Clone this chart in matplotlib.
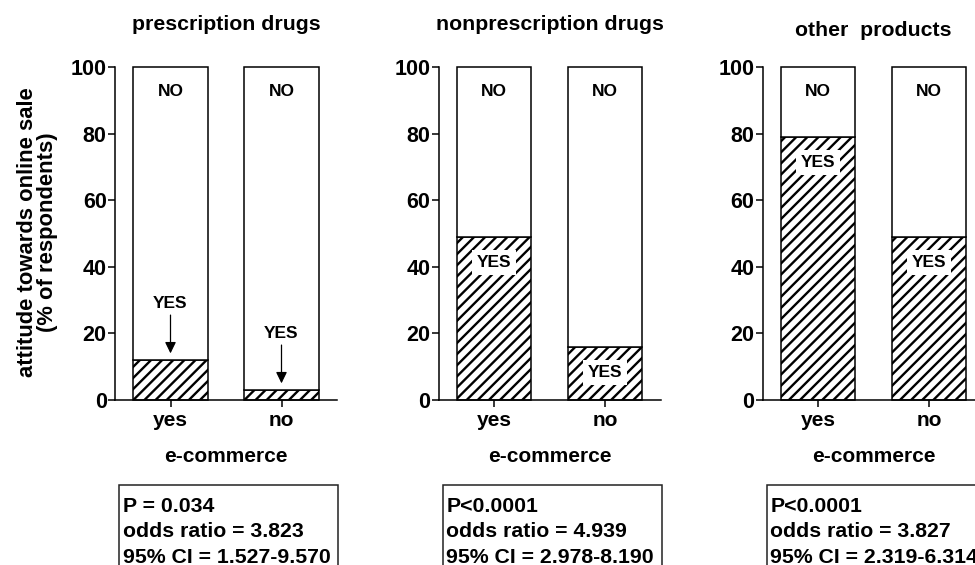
import matplotlib
matplotlib.use("Agg")
import matplotlib.pyplot as plt
from matplotlib.patches import Rectangle

plt.rcParams['font.family'] = ['Liberation Sans', 'DejaVu Sans']
plt.rcParams['font.weight'] = 'bold'
plt.rcParams['hatch.linewidth'] = 1.7

# ---- data ----
panel_titles = ["prescription drugs", "nonprescription drugs", "other  products"]
groups = ["yes", "no"]
yes_pct = [[12, 3], [49, 16], [79, 49]]
p_values = ["P = 0.034", "P<0.0001", "P<0.0001"]
odds_ratios = ["3.823", "4.939", "3.827"]
ci_ranges = ["1.527-9.570", "2.978-8.190", "2.319-6.314"]
yticks = [0, 20, 40, 60, 80, 100]
xlabel = "e-commerce"
ylabel = "attitude towards online sale\n(% of respondents)"

W, H = 975, 565
fig = plt.figure(figsize=(W / 100, H / 100), dpi=100)

left_px = [115, 438.5, 762.5]
ax_w_px, ax_bottom_px, ax_h_px = 222, 165, 333
title_y = [1.129, 1.129, 1.11]

for i in range(3):
    ax = fig.add_axes([left_px[i] / W, ax_bottom_px / H, ax_w_px / W, ax_h_px / H])
    x = list(range(len(groups)))
    yes = yes_pct[i]
    no = [100 - v for v in yes]
    ax.bar(x, yes, width=0.667, color='white', edgecolor='black', hatch='///',
           linewidth=1.1, clip_on=False, zorder=2)
    ax.bar(x, no, bottom=yes, width=0.667, color='white', edgecolor='black',
           linewidth=1.1, clip_on=False, zorder=2)

    ax.set_xlim(-0.5, 1.5)
    ax.set_ylim(0, 100)
    ax.set_yticks(yticks)
    ax.set_xticks(x)
    ax.set_xticklabels(groups, fontsize=15, fontweight='bold')
    ax.tick_params(axis='y', labelsize=15.5, length=5, width=1.1, pad=1, direction='out')
    ax.tick_params(axis='x', length=5, width=1.1, pad=3, direction='out')
    for s in ['top', 'right']:
        ax.spines[s].set_visible(False)
    for s in ['left', 'bottom']:
        ax.spines[s].set_linewidth(1.1)

    for xi, v in zip(x, yes):
        ax.text(xi, 92.5, "NO", ha='center', va='center', fontsize=12.5,
                fontweight='bold', zorder=4)
        if v >= 15:
            ax.text(xi, v - 7.7, "YES", ha='center', va='center', fontsize=12.5,
                    fontweight='bold', zorder=4,
                    bbox=dict(boxstyle='square,pad=0.3', facecolor='white', edgecolor='none'))
        else:
            ax.text(xi, v + 17, "YES", ha='center', va='center', fontsize=12.5,
                    fontweight='bold', zorder=4)
            ax.annotate('', xy=(xi, v + 2), xytext=(xi, v + 13.5),
                        arrowprops=dict(arrowstyle='-|>,head_length=0.45,head_width=0.22',
                                        mutation_scale=15, color='black', lw=0.9,
                                        shrinkA=0, shrinkB=0), zorder=4)

    ax.text(0.5, title_y[i], panel_titles[i], transform=ax.transAxes, ha='center',
            va='center', fontsize=15.3, fontweight='bold')
    ax.text(0.5, -0.171, xlabel, transform=ax.transAxes, ha='center', va='center',
            fontsize=15, fontweight='bold')

    if i == 0:
        ax.set_ylabel(ylabel, fontsize=15.8, fontweight='bold', linespacing=0.95)
        ax.yaxis.set_label_coords(-0.255, 0.505)

    # statistics box
    rect = Rectangle((0.02, -0.62), 0.985, 0.365, transform=ax.transAxes,
                     facecolor='white', edgecolor='#222222', linewidth=1.1, clip_on=False)
    ax.add_patch(rect)
    lines = [p_values[i], "odds ratio = " + odds_ratios[i], "95% CI = " + ci_ranges[i]]
    for k, (txt, yy) in enumerate(zip(lines, [-0.336, -0.411, -0.489])):
        ax.text(0.036, yy, txt, transform=ax.transAxes, ha='left', va='baseline',
                fontsize=15.3, fontweight='bold')

fig.savefig("out.png", dpi=100)
